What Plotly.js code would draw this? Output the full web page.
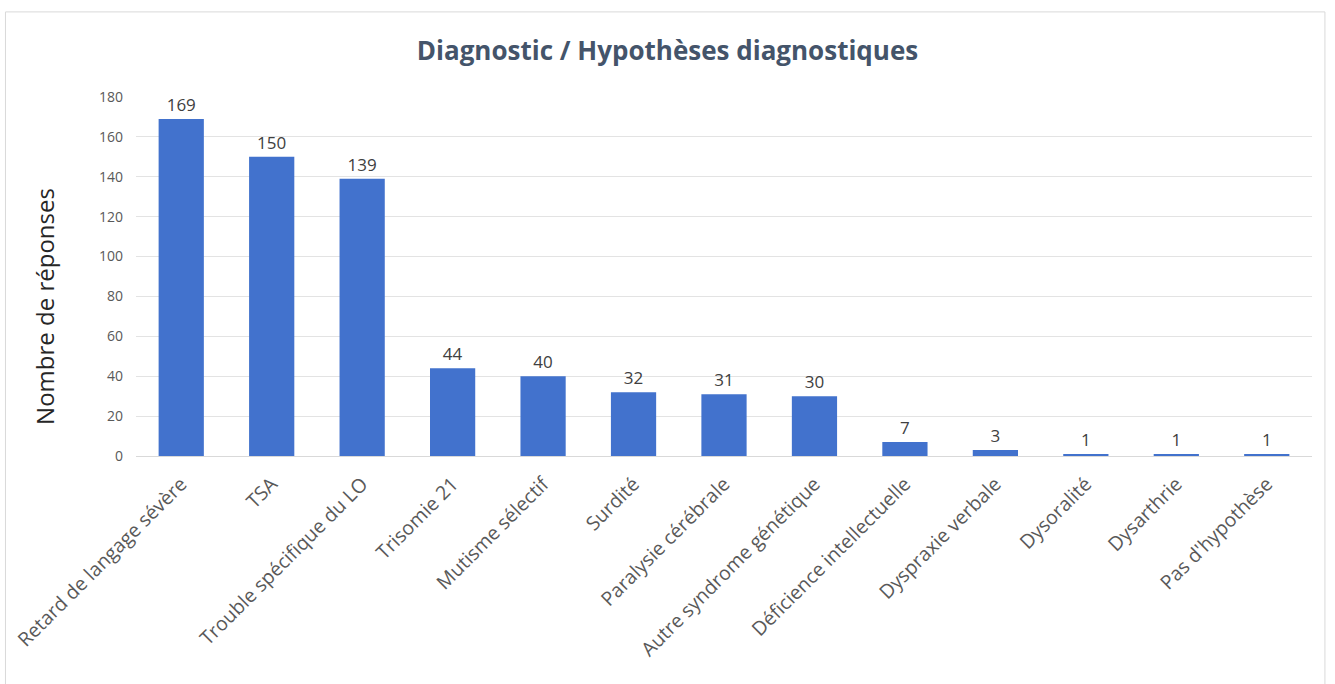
<!DOCTYPE html>
<html>
<head>
<meta charset="utf-8">
<script src="https://cdn.plot.ly/plotly-3.0.1.min.js"></script>
<style>html,body{margin:0;padding:0;background:#fff;}#chart{width:1335px;height:684px;}</style>
</head>
<body>
<div id="chart"></div>
<script>
const categories = ["Retard de langage sévère","TSA","Trouble spécifique du LO","Trisomie 21","Mutisme sélectif","Surdité","Paralysie cérébrale","Autre syndrome génétique","Déficience intellectuelle","Dyspraxie verbale","Dysoralité","Dysarthrie","Pas d'hypothèse"];
const responses = [169,150,139,44,40,32,31,30,7,3,1,1,1];
const yTicks = [0,20,40,60,80,100,120,140,160,180];
const yTitle = "Nombre de réponses";

const trace = {
  type: "bar",
  x: categories,
  y: responses,
  text: responses.map(String),
  textposition: "outside",
  cliponaxis: false,
  textfont: {family: "Open Sans, sans-serif", size: 17, color: "#404040"},
  marker: {color: "#4272CD", line: {width: 0}},
  hoverinfo: "x+y"
};

const layout = {
  width: 1335, height: 684,
  paper_bgcolor: "#fff", plot_bgcolor: "#fff",
  margin: {l: 136, r: 23, t: 97, b: 228},
  bargap: 0.5,
  showlegend: false,
  title: {text: "<b>Diagnostic / Hypothèses diagnostiques</b>", x: 0.5, xanchor: "center", y: 0.925, yanchor: "middle",
          font: {family: "Open Sans, sans-serif", size: 26, color: "#44546A"}},
  xaxis: {tickangle: -45, tickfont: {family: "Open Sans, sans-serif", size: 19.5, color: "#595959"},
          ticklabelstandoff: 8,
          showgrid: false, showline: true, linecolor: "#D9D9D9", ticks: "", automargin: false},
  yaxis: {range: [0, 180], tickvals: yTicks, ticktext: yTicks.map(String),
          tickfont: {family: "Open Sans, sans-serif", size: 14, color: "#595959"},
          gridcolor: "#E3E3E3", zeroline: false, showline: false, ticks: "", ticklabelstandoff: 12,
          automargin: false},
  annotations: [{text: yTitle, xref: "paper", yref: "paper", x: -0.0774, y: 0.418, textangle: -90,
                 showarrow: false, xanchor: "center", yanchor: "middle",
                 font: {family: "Open Sans, sans-serif", size: 24, color: "#262626"}}],
  shapes: [{type: "rect", xref: "paper", yref: "paper", x0: -0.111, x1: 1.011, y0: -0.66, y1: 1.237,
            line: {color: "#D9D9D9", width: 1}, fillcolor: "rgba(0,0,0,0)", layer: "below"}]
};

Plotly.newPlot("chart", [trace], layout, {displayModeBar: false, staticPlot: true});
</script>
</body>
</html>
